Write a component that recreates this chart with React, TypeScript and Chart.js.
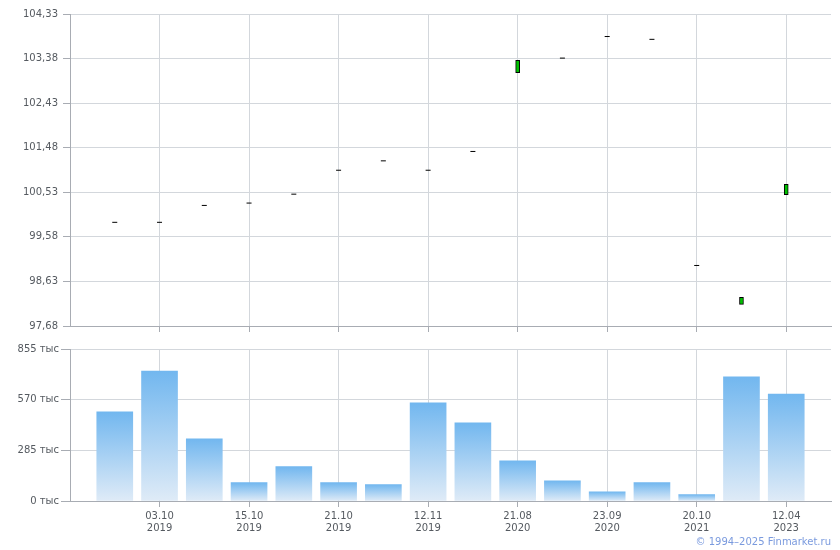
import React, { useEffect, useRef } from "react";
import { Chart, registerables } from "chart.js";

Chart.register(...registerables);

// ---- data ----
const POSITIONS = [1, 2, 3, 4, 5, 6, 7, 8, 9, 10, 11, 12, 13, 14, 15, 16];
const OPEN = [99.89, 99.89, 100.25, 100.3, 100.49, 101.0, 101.2, 101.0, 101.4, 103.08, 103.39, 103.85, 103.79, 98.97, 98.14, 100.48];
const CLOSE = [99.89, 99.89, 100.25, 100.3, 100.49, 101.0, 101.2, 101.0, 101.4, 103.34, 103.39, 103.85, 103.79, 98.97, 98.29, 100.7];
const VOLUME = [501, 731, 350, 103, 193, 103, 92, 552, 440, 226, 114, 52, 103, 36, 698, 602];
const X_TICKS = [2, 4, 6, 8, 10, 12, 14, 16];
const X_TICK_LABELS = [
  ["03.10", "2019"],
  ["15.10", "2019"],
  ["21.10", "2019"],
  ["12.11", "2019"],
  ["21.08", "2020"],
  ["23.09", "2020"],
  ["20.10", "2021"],
  ["12.04", "2023"],
];
const PRICE_TICKS = [97.68, 98.63, 99.58, 100.53, 101.48, 102.43, 103.38, 104.33];
const VOLUME_TICKS = [0, 285, 570, 855];
const X_MIN = 0;
const X_MAX = 17;

const FONT = { family: '"DejaVu Sans", Verdana, sans-serif', size: 10 };
const LABEL_COLOR = "#555a60";
const GRID_COLOR = "#d3d7dc";
const AXIS_COLOR = "#a8acb3";

function fixedTicks(values: number[]) {
  return (scale: any) => {
    scale.ticks = values.map((v) => ({ value: v }));
  };
}

export default function App() {
  const topRef = useRef<HTMLCanvasElement>(null);
  const botRef = useRef<HTMLCanvasElement>(null);

  useEffect(() => {
    const bodies: any[] = [];
    const dojis: any[] = [];
    POSITIONS.forEach((x, i) => {
      if (OPEN[i] === CLOSE[i]) dojis.push({ x, y: OPEN[i] });
      else bodies.push({ x, y: [OPEN[i], CLOSE[i]] });
    });

    const xCommon = (showLabels: boolean, h: number) => ({
      type: "linear" as const,
      min: X_MIN,
      max: X_MAX,
      offset: false,
      afterBuildTicks: fixedTicks(X_TICKS),
      afterFit: (s: any) => {
        s.height = h;
      },
      grid: {
        offset: false,
        color: GRID_COLOR,
        tickColor: AXIS_COLOR,
        tickLength: 6,
        drawTicks: true,
      },
      border: { color: AXIS_COLOR, width: 1 },
      ticks: {
        display: showLabels,
        autoSkip: false,
        maxRotation: 0,
        padding: 3,
        color: LABEL_COLOR,
        font: FONT,
        callback: (v: any) => {
          const idx = X_TICKS.indexOf(Number(v));
          return idx >= 0 ? X_TICK_LABELS[idx] : "";
        },
      },
    });

    const top = new Chart(topRef.current!, {
      type: "bar",
      data: {
        datasets: [
          {
            type: "bar",
            data: bodies,
            backgroundColor: "#00c000",
            borderColor: "#000000",
            borderWidth: 1,
            borderSkipped: false,
            barThickness: 4,
          } as any,
          {
            type: "scatter",
            data: dojis,
            pointStyle: "line",
            radius: 2.5,
            borderColor: "#000000",
            borderWidth: 1,
            backgroundColor: "#000000",
          } as any,
        ],
      },
      options: {
        animation: false,
        responsive: false,
        layout: { padding: { left: 0, right: 9, top: 14, bottom: 0 } },
        plugins: { legend: { display: false }, tooltip: { enabled: false } },
        scales: {
          x: xCommon(false, 14) as any,
          y: {
            type: "linear",
            min: PRICE_TICKS[0],
            max: PRICE_TICKS[PRICE_TICKS.length - 1],
            afterBuildTicks: fixedTicks(PRICE_TICKS),
            afterFit: (s: any) => {
              s.width = 70;
            },
            grid: { color: GRID_COLOR, tickColor: AXIS_COLOR, tickLength: 7 },
            border: { color: AXIS_COLOR, width: 1 },
            ticks: {
              color: LABEL_COLOR,
              font: FONT,
              padding: 5,
              callback: (v: any) => Number(v).toFixed(2).replace(".", ","),
            },
          },
        },
      },
    });

    const bot = new Chart(botRef.current!, {
      type: "bar",
      data: {
        datasets: [
          {
            data: POSITIONS.map((x, i) => ({ x, y: VOLUME[i] })),
            barThickness: 36,
            borderWidth: 0,
            backgroundColor: (ctx: any) => {
              const chart = ctx.chart;
              const ys = chart.scales && chart.scales.y;
              if (!ys || ctx.raw == null) return "#8cc4f0";
              const yTop = ys.getPixelForValue(ctx.raw.y);
              const yBase = ys.getPixelForValue(0);
              if (!isFinite(yTop) || !isFinite(yBase) || yTop === yBase) return "#8cc4f0";
              const g = chart.ctx.createLinearGradient(0, yTop, 0, yBase);
              g.addColorStop(0, "#72b7ef");
              g.addColorStop(1, "#dfebf7");
              return g;
            },
          } as any,
        ],
      },
      options: {
        animation: false,
        responsive: false,
        layout: { padding: { left: 0, right: 9, top: 19, bottom: 0 } },
        plugins: { legend: { display: false }, tooltip: { enabled: false } },
        scales: {
          x: xCommon(true, 49) as any,
          y: {
            type: "linear",
            min: 0,
            max: 855,
            afterBuildTicks: fixedTicks(VOLUME_TICKS),
            afterFit: (s: any) => {
              s.width = 70;
            },
            grid: { color: GRID_COLOR, tickColor: AXIS_COLOR, tickLength: 9 },
            border: { color: AXIS_COLOR, width: 1 },
            ticks: {
              color: LABEL_COLOR,
              font: FONT,
              padding: 2,
              callback: (v: any) => `${v} тыс`,
            },
          },
        },
      },
    });

    return () => {
      top.destroy();
      bot.destroy();
    };
  }, []);

  return (
    <div style={{ position: "absolute", left: 0, top: 0, width: 840, height: 550, background: "#fff" }}>
      <canvas ref={topRef} width={840} height={340} style={{ position: "absolute", left: 0, top: 0 }} />
      <canvas ref={botRef} width={840} height={220} style={{ position: "absolute", left: 0, top: 330 }} />
      <div
        style={{
          position: "absolute",
          right: 9,
          top: 536,
          font: '10px "DejaVu Sans", Verdana, sans-serif',
          color: "#7a9ade",
          whiteSpace: "nowrap",
        }}
      >
        © 1994–2025 Finmarket.ru
      </div>
    </div>
  );
}
